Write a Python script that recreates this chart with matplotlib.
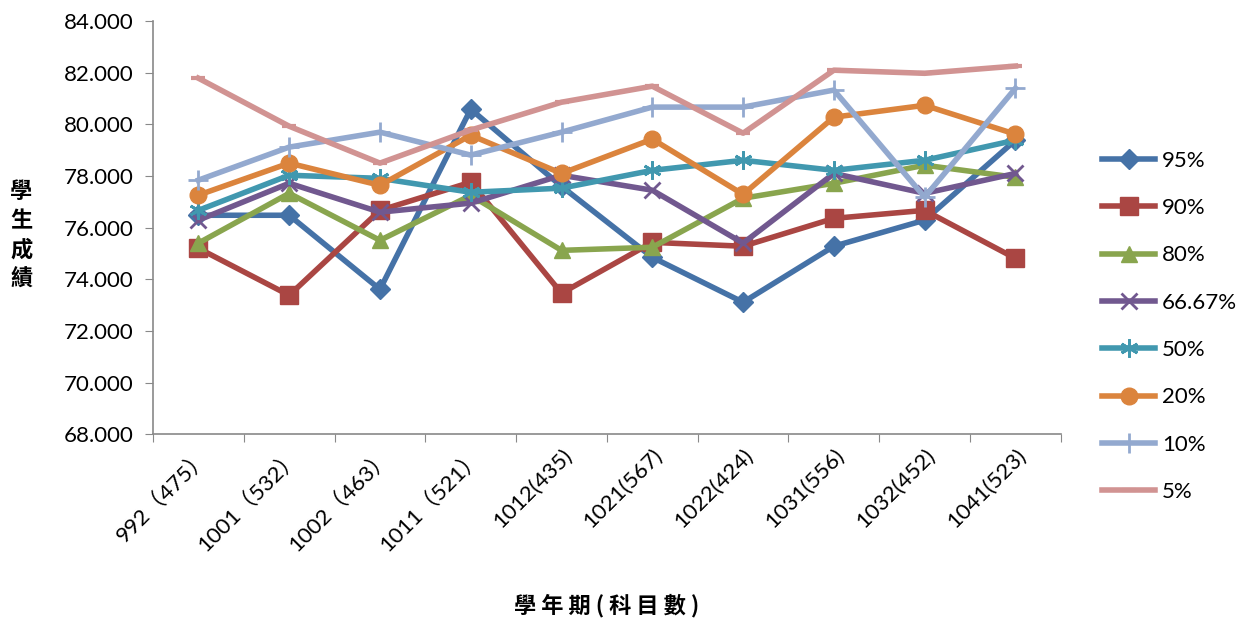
import matplotlib
matplotlib.use("Agg")
import matplotlib.pyplot as plt

categories = ["992（475）", "1001（532）", "1002（463）", "1011（521）", "1012(435)",
              "1021(567)", "1022(424)", "1031(556)", "1032(452)", "1041(523)"]

s95 = [76.48, 76.48, 73.61, 80.59, 77.6, 74.85, 73.11, 75.28, 76.29, 79.39]
s90 = [75.2, 73.38, 76.67, 77.76, 73.46, 75.43, 75.28, 76.36, 76.67, 74.81]
s80 = [75.4, 77.33, 75.51, 77.25, 75.12, 75.24, 77.14, 77.72, 78.42, 77.95]
s6667 = [76.29, 77.72, 76.6, 76.95, 78.03, 77.45, 75.4, 78.1, 77.33, 78.1]
s50 = [76.67, 78.03, 77.91, 77.37, 77.53, 78.22, 78.61, 78.22, 78.61, 79.39]
s20 = [77.26, 78.5, 77.64, 79.58, 78.1, 79.43, 77.29, 80.28, 80.74, 79.62]
s10 = [77.84, 79.12, 79.7, 78.81, 79.7, 80.67, 80.67, 81.33, 77.18, 81.4]
s5 = [81.79, 79.93, 78.5, 79.78, 80.86, 81.48, 79.66, 82.1, 81.98, 82.26]

labels = ["95%", "90%", "80%", "66.67%", "50%", "20%", "10%", "5%"]
series = [s95, s90, s80, s6667, s50, s20, s10, s5]
colors = ["#4572A7", "#AA4643", "#89A54E", "#71588F", "#4198AF", "#DB843D", "#93A9CF", "#D19392"]
markers = ["D", "s", "^", "x", (6, 2, 0), "o", "+", "_"]
msizes = [10, 13, 12, 11, 13, 12, 14, 10]
mews = [1, 1, 1, 2, 2, 1, 2, 3]

yticks = [68, 70, 72, 74, 76, 78, 80, 82, 84]

plt.rcParams['font.family'] = ['Lato', 'Noto Sans CJK TC', 'DejaVu Sans']

fig = plt.figure(figsize=(12.51, 6.22), dpi=100)
ax = fig.add_axes([0.1223, 0.302, 0.7257, 0.664])

x = list(range(len(categories)))
for vals, lab, c, m, ms, mew in zip(series, labels, colors, markers, msizes, mews):
    ax.plot(x, vals, color=c, lw=4, marker=m, markersize=ms, markeredgewidth=mew,
            markeredgecolor=c, markerfacecolor=c, label=lab, solid_joinstyle='round')

ax.set_xlim(-0.5, len(categories) - 0.5)
ax.set_ylim(68, 84)
ax.set_yticks(yticks)
ax.set_yticklabels([f"{v:.3f}" for v in yticks], fontsize=16)
ax.set_xticks([i - 0.5 for i in range(len(categories) + 1)], minor=False)
ax.set_xticklabels([])
ax.set_xticks(x, minor=True)
ax.set_xticklabels(categories, minor=True, rotation=45, ha='right', va='top',
                   rotation_mode='anchor', fontsize=16,
                   family=['Lato', 'Noto Sans CJK TC'])
ax.tick_params(axis='x', which='minor', length=0, pad=8)
ax.tick_params(axis='x', which='major', length=6, color='#898989', direction='out')
ax.tick_params(axis='y', length=6, color='#898989', direction='out', pad=8)

for s in ['top', 'right']:
    ax.spines[s].set_visible(False)
for s in ['left', 'bottom']:
    ax.spines[s].set_color('#898989')
    ax.spines[s].set_linewidth(1.2)

fig.text(0.017, 0.622, "學\n生\n成\n績", fontsize=16, fontweight='bold',
         family=['Noto Sans CJK TC'], ha='center', va='center', linespacing=1.35)
fig.text(0.485, 0.027, "學 年 期 ( 科 目 數 )", fontsize=16, fontweight='bold',
         family=['Noto Sans CJK TC'], ha='center', va='center')

leg = fig.legend(loc='upper left', bbox_to_anchor=(0.865, 0.79), frameon=False,
                 fontsize=16, labelspacing=1.23, handlelength=2.4, handletextpad=0.3)

fig.savefig("out.png", dpi=100)
